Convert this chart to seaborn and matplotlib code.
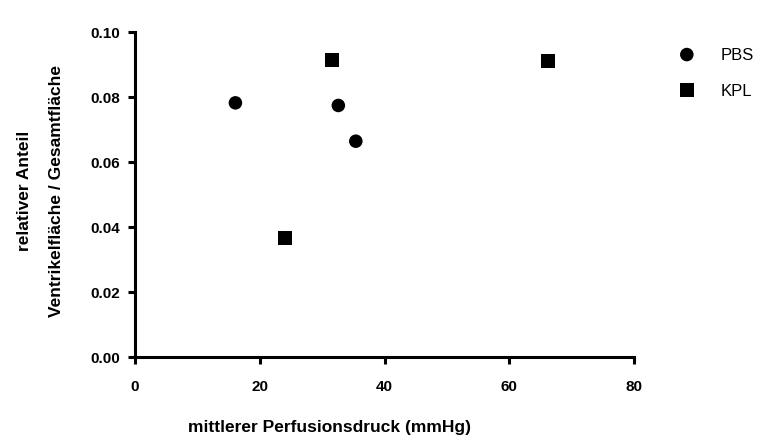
import matplotlib
matplotlib.use("Agg")
import matplotlib.pyplot as plt
import seaborn as sns
import pandas as pd

groups = ["PBS", "KPL"]
pbs_x = [16.1, 32.6, 35.4]
pbs_y = [0.0782, 0.0774, 0.0664]
kpl_x = [24.0, 31.6, 66.2]
kpl_y = [0.0367, 0.0913, 0.0911]
x_ticks = [0, 20, 40, 60, 80]
y_ticks = [0.00, 0.02, 0.04, 0.06, 0.08, 0.10]

df = pd.DataFrame({
    "x": pbs_x + kpl_x,
    "y": pbs_y + kpl_y,
    "group": ["PBS"] * len(pbs_x) + ["KPL"] * len(kpl_x),
})

sns.set_theme(style="ticks")
plt.rcParams["font.family"] = ["Liberation Sans", "DejaVu Sans"]
plt.rcParams["text.color"] = "black"
plt.rcParams["axes.labelcolor"] = "black"
plt.rcParams["xtick.color"] = "black"
plt.rcParams["ytick.color"] = "black"

fig = plt.figure(figsize=(7.76, 4.39), dpi=100)
ax = fig.add_axes([135 / 776, 1 - 358 / 439, (634 - 135) / 776, (358 - 33) / 439])

for g, m, s in [("PBS", "o", 95), ("KPL", "s", 100)]:
    sub = df[df["group"] == g]
    sns.scatterplot(data=sub, x="x", y="y", marker=m, s=s, color="black",
                    edgecolor="none", ax=ax, label=g)

ax.set_xlim(0, 80)
ax.set_ylim(0, 0.10)
ax.set_xticks(x_ticks)
ax.set_yticks(y_ticks)
ax.set_xticklabels([str(v) for v in x_ticks], fontweight="bold", fontsize=11)
ax.set_yticklabels([f"{v:.2f}" for v in y_ticks], fontweight="bold", fontsize=11)
for sp in ["top", "right"]:
    ax.spines[sp].set_visible(False)
for sp in ["left", "bottom"]:
    ax.spines[sp].set_linewidth(2.2)
    ax.spines[sp].set_color("black")
ax.tick_params(axis="x", width=2.2, length=5, color="black", labelcolor="black", pad=11)
ax.tick_params(axis="y", width=2.2, length=5, color="black", labelcolor="black", pad=6)
ax.set_xlabel("mittlerer Perfusionsdruck (mmHg)", fontweight="bold", fontsize=12.5, color="black")
ax.xaxis.set_label_coords(0.39, -0.19)
ax.set_ylabel("relativer Anteil\nVentrikelfläche / Gesamtfläche", fontweight="bold",
              fontsize=12.5, linespacing=2.45, color="black")
ax.yaxis.set_label_coords(-0.142, 0.515)

leg = ax.legend(loc="upper left", bbox_to_anchor=(0.855, 0.906), bbox_transform=fig.transFigure,
                frameon=False, fontsize=12, labelspacing=1.25, handletextpad=1.0,
                borderaxespad=0)
for t in leg.get_texts():
    t.set_color("black")
ax.set_facecolor("white")
fig.patch.set_facecolor("white")
fig.savefig("out.png", dpi=100)
